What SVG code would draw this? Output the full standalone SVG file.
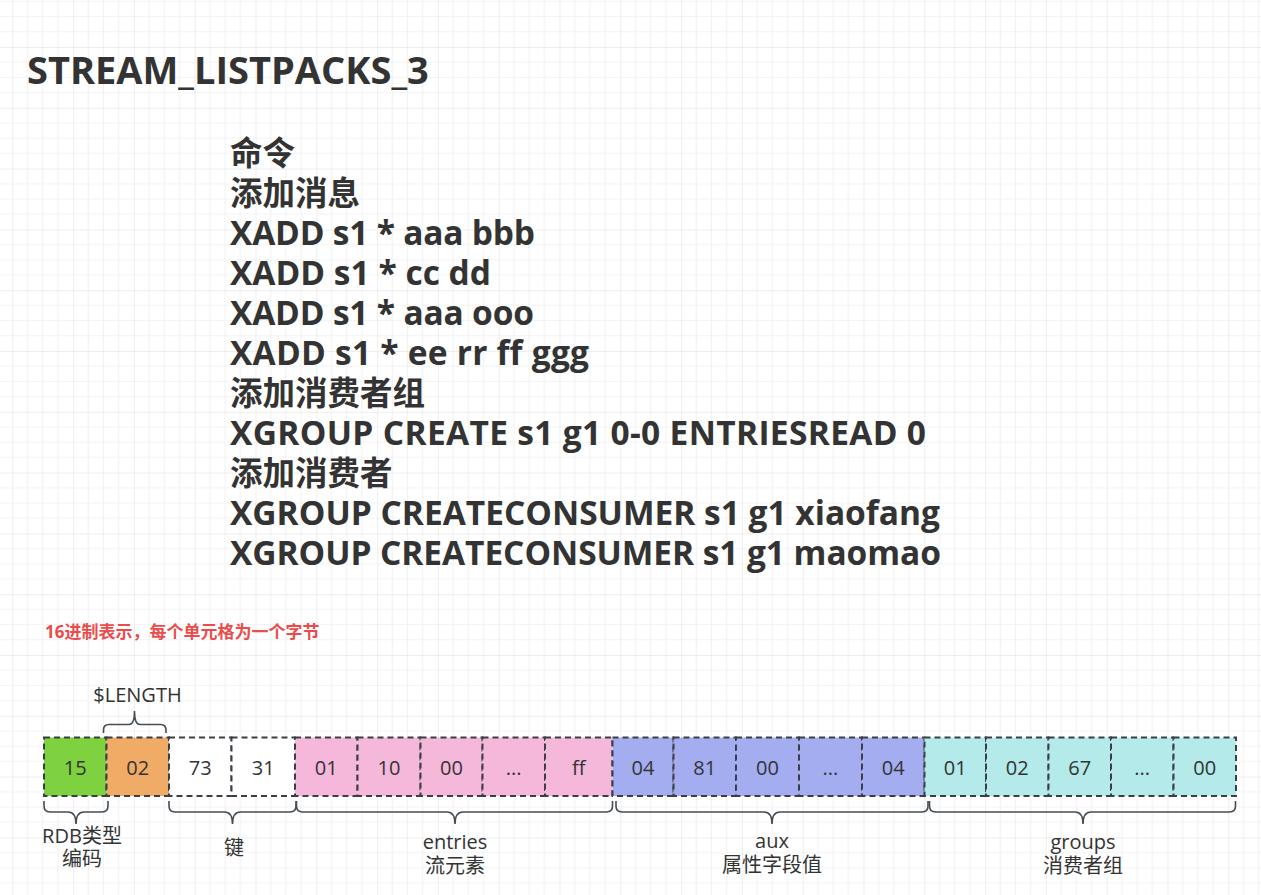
<svg xmlns="http://www.w3.org/2000/svg" width="1261" height="895" viewBox="0 0 1261 895">
<defs>
<pattern id="grid" x="12.3" y="-13.8" width="60.8" height="60.8" patternUnits="userSpaceOnUse">
<path d="M15.2 0V60.8M30.4 0V60.8M45.6 0V60.8M0 15.2H60.8M0 30.4H60.8M0 45.6H60.8" stroke="#f3f3f3" stroke-width="1.2" fill="none"/>
<path d="M0 0V60.8M0 0H60.8" stroke="#e9e9e9" stroke-width="1.5" fill="none"/>
</pattern>
<style>
.title{font-family:"Open Sans","Noto Sans CJK SC",sans-serif;font-weight:bold;font-size:38px;fill:#333333}
.cmd{font-family:"Open Sans","Noto Sans CJK SC",sans-serif;font-weight:bold;font-size:33.5px;fill:#333333}
.cjk{font-size:32.5px}
.note{font-family:"Open Sans","Noto Sans CJK SC",sans-serif;font-weight:bold;font-size:17px;fill:#ea4c4c}
.lbl{font-family:"Open Sans","Noto Sans CJK SC",sans-serif;font-size:20px;fill:#333333;text-anchor:middle}
.cell{stroke:#3a3f45;stroke-width:2;stroke-dasharray:6 4}
.brace{fill:none;stroke:#444d56;stroke-width:1.6}
</style>
</defs>
<rect width="1261" height="895" fill="#ffffff"/>
<rect width="1261" height="895" fill="url(#grid)"/>

<g id="title"><text class="title" x="27" y="84">STREAM_LISTPACKS_3</text></g>

<g id="commands">
<text class="cmd">
<tspan class="cjk" x="230" y="165">命令</tspan>
<tspan class="cjk" x="230" y="205">添加消息</tspan>
<tspan x="230" y="245" textLength="305" lengthAdjust="spacing">XADD s1 * aaa bbb</tspan>
<tspan x="230" y="285" textLength="261" lengthAdjust="spacing">XADD s1 * cc dd</tspan>
<tspan x="230" y="325" textLength="304" lengthAdjust="spacing">XADD s1 * aaa ooo</tspan>
<tspan x="230" y="365" textLength="359" lengthAdjust="spacing">XADD s1 * ee rr ff ggg</tspan>
<tspan class="cjk" x="230" y="405">添加消费者组</tspan>
<tspan x="230" y="445" textLength="696" lengthAdjust="spacing">XGROUP CREATE s1 g1 0-0 ENTRIESREAD 0</tspan>
<tspan class="cjk" x="230" y="485">添加消费者</tspan>
<tspan x="230" y="525" textLength="710" lengthAdjust="spacing">XGROUP CREATECONSUMER s1 g1 xiaofang</tspan>
<tspan x="230" y="565" textLength="711" lengthAdjust="spacing">XGROUP CREATECONSUMER s1 g1 maomao</tspan>
</text>
</g>

<g id="note"><text class="note" x="45" y="638">16进制表示，每个单元格为一个字节</text></g>

<g id="length-label"><text class="lbl" x="137.5" y="702">$LENGTH</text></g>

<g id="cells">
<g id="c1"><rect class="cell" x="44" y="737.5" width="62.5" height="58.5" fill="#7ed23f"/><text class="lbl" x="75.25" y="775">15</text></g>
<g id="c2"><rect class="cell" x="106.5" y="737.5" width="62.5" height="58.5" fill="#f0ac67"/><text class="lbl" x="137.75" y="775">02</text></g>
<g id="c3"><rect class="cell" x="169" y="737.5" width="62.5" height="58.5" fill="#ffffff"/><text class="lbl" x="200.25" y="775">73</text></g>
<g id="c4"><rect class="cell" x="231.5" y="737.5" width="63.5" height="58.5" fill="#ffffff"/><text class="lbl" x="263.25" y="775">31</text></g>
<g id="c5"><rect class="cell" x="295" y="737.5" width="62.5" height="58.5" fill="#f5b8da"/><text class="lbl" x="326.25" y="775">01</text></g>
<g id="c6"><rect class="cell" x="357.5" y="737.5" width="63" height="58.5" fill="#f5b8da"/><text class="lbl" x="389" y="775">10</text></g>
<g id="c7"><rect class="cell" x="420.5" y="737.5" width="62" height="58.5" fill="#f5b8da"/><text class="lbl" x="451.5" y="775">00</text></g>
<g id="c8"><rect class="cell" x="482.5" y="737.5" width="62.5" height="58.5" fill="#f5b8da"/><text class="lbl" x="513.75" y="775">...</text></g>
<g id="c9"><rect class="cell" x="545" y="737.5" width="67.5" height="58.5" fill="#f5b8da"/><text class="lbl" x="578.75" y="775">ff</text></g>
<g id="c10"><rect class="cell" x="612.5" y="737.5" width="61" height="58.5" fill="#a3adf0"/><text class="lbl" x="643" y="775">04</text></g>
<g id="c11"><rect class="cell" x="673.5" y="737.5" width="62.5" height="58.5" fill="#a3adf0"/><text class="lbl" x="704.75" y="775">81</text></g>
<g id="c12"><rect class="cell" x="736" y="737.5" width="63" height="58.5" fill="#a3adf0"/><text class="lbl" x="767.5" y="775">00</text></g>
<g id="c13"><rect class="cell" x="799" y="737.5" width="63" height="58.5" fill="#a3adf0"/><text class="lbl" x="830.5" y="775">...</text></g>
<g id="c14"><rect class="cell" x="862" y="737.5" width="62.5" height="58.5" fill="#a3adf0"/><text class="lbl" x="893.25" y="775">04</text></g>
<g id="c15"><rect class="cell" x="924.5" y="737.5" width="61.5" height="58.5" fill="#b4eaea"/><text class="lbl" x="955.25" y="775">01</text></g>
<g id="c16"><rect class="cell" x="986" y="737.5" width="62.5" height="58.5" fill="#b4eaea"/><text class="lbl" x="1017.25" y="775">02</text></g>
<g id="c17"><rect class="cell" x="1048.5" y="737.5" width="62.5" height="58.5" fill="#b4eaea"/><text class="lbl" x="1079.75" y="775">67</text></g>
<g id="c18"><rect class="cell" x="1111" y="737.5" width="62.5" height="58.5" fill="#b4eaea"/><text class="lbl" x="1142.25" y="775">...</text></g>
<g id="c19"><rect class="cell" x="1173.5" y="737.5" width="62.5" height="58.5" fill="#b4eaea"/><text class="lbl" x="1204.75" y="775">00</text></g>
</g>

<g id="braces">
<path class="brace" d="M103.5 733 V730 Q103.5 724.5 109 724.5 H129 Q134.5 724.5 134.5 711 Q134.5 724.5 140 724.5 H160.5 Q166 724.5 166 730 V733"/>
<path class="brace" d="M44 801 V806 Q44 812 50 812 H68 Q76 812 76 824 Q76 812 84 812 H102 Q108 812 108 806 V801"/>
<path class="brace" d="M169 801 V806 Q169 812 175 812 H224.5 Q232.5 812 232.5 824 Q232.5 812 240.5 812 H290 Q296 812 296 806 V801"/>
<path class="brace" d="M296.5 801 V806 Q296.5 812 302.5 812 H447 Q455 812 455 824 Q455 812 463 812 H606.5 Q612.5 812 612.5 806 V801"/>
<path class="brace" d="M616 801 V806 Q616 812 622 812 H764 Q772 812 772 824 Q772 812 780 812 H922 Q928 812 928 806 V801"/>
<path class="brace" d="M929.5 801 V806 Q929.5 812 935.5 812 H1075 Q1083 812 1083 824 Q1083 812 1091 812 H1229.5 Q1235.5 812 1235.5 806 V801"/>
</g>

<g id="labels">
<g id="lbl-rdb"><text class="lbl"><tspan x="82" y="843">RDB类型</tspan><tspan x="82" y="866">编码</tspan></text></g>
<g id="lbl-key"><text class="lbl" x="234" y="855">键</text></g>
<g id="lbl-entries"><text class="lbl"><tspan x="455" y="849">entries</tspan><tspan x="455" y="873">流元素</tspan></text></g>
<g id="lbl-aux"><text class="lbl"><tspan x="772" y="848">aux</tspan><tspan x="772" y="872">属性字段值</tspan></text></g>
<g id="lbl-groups"><text class="lbl"><tspan x="1083" y="849">groups</tspan><tspan x="1083" y="873">消费者组</tspan></text></g>
</g>
</svg>
